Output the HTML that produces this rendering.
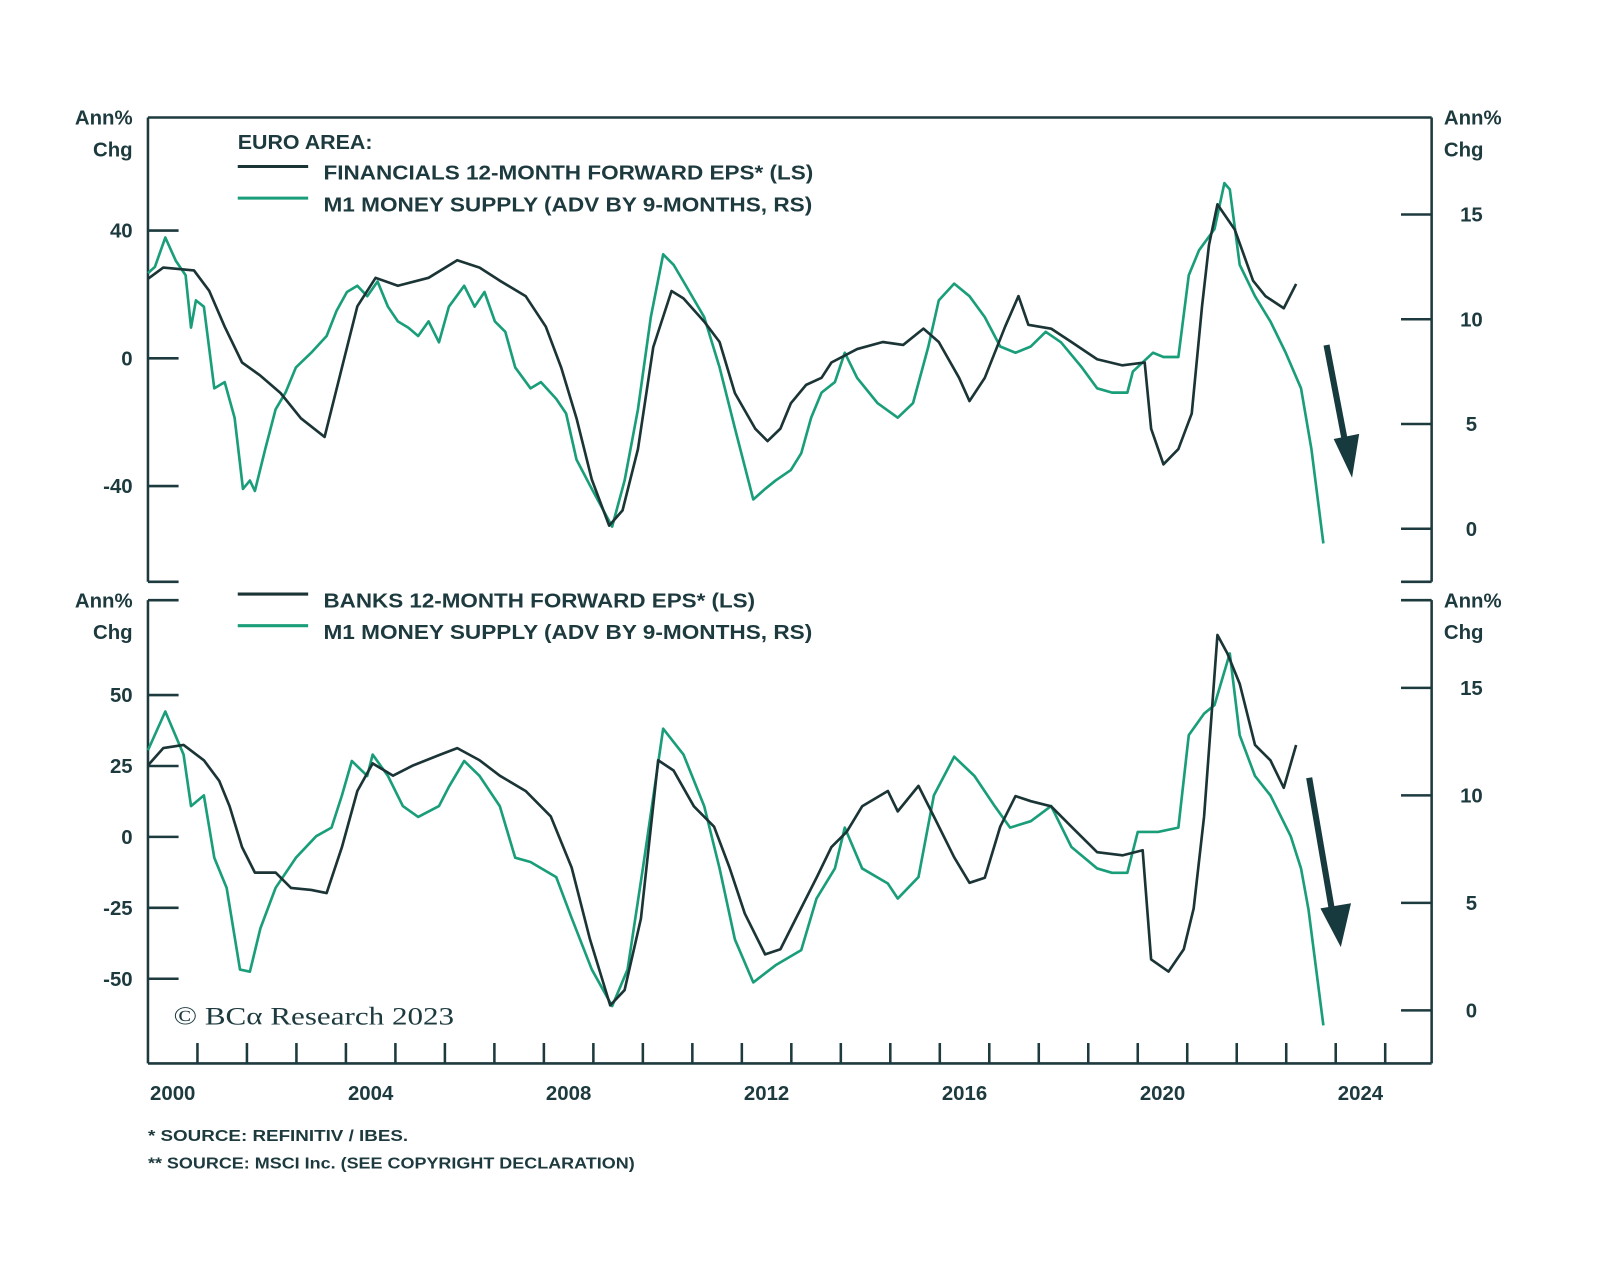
<!DOCTYPE html>
<html><head><meta charset="utf-8"><style>
html,body{margin:0;padding:0;background:#fff;}
svg{display:block;}
text{font-family:"Liberation Sans",sans-serif;fill:#1d3a3e;}
</style></head><body>
<svg id="chart" width="1600" height="1284" viewBox="0 0 1568 1258" xmlns="http://www.w3.org/2000/svg">
<g id="frame"></g>
<g id="series"></g>
<g>
<text x="233" y="146" font-size="20" font-weight="bold" textLength="132" lengthAdjust="spacingAndGlyphs">EURO AREA:</text>
<line x1="233" y1="163" x2="302" y2="163" stroke="#1b3436" stroke-width="3"/>
<text x="317" y="176" font-size="20" font-weight="bold" textLength="480" lengthAdjust="spacingAndGlyphs">FINANCIALS 12-MONTH FORWARD EPS* (LS)</text>
<line x1="233" y1="194" x2="302" y2="194" stroke="#1a9e7a" stroke-width="3"/>
<text x="317" y="207" font-size="20" font-weight="bold" textLength="479" lengthAdjust="spacingAndGlyphs">M1 MONEY SUPPLY (ADV BY 9-MONTHS, RS)</text>
</g>
<g>
<line x1="233" y1="582" x2="302" y2="582" stroke="#1b3436" stroke-width="3"/>
<text x="317" y="595" font-size="20" font-weight="bold" textLength="423" lengthAdjust="spacingAndGlyphs">BANKS 12-MONTH FORWARD EPS* (LS)</text>
<line x1="233" y1="613" x2="302" y2="613" stroke="#1a9e7a" stroke-width="3"/>
<text x="317" y="626" font-size="20" font-weight="bold" textLength="479" lengthAdjust="spacingAndGlyphs">M1 MONEY SUPPLY (ADV BY 9-MONTHS, RS)</text>
</g>
<g font-size="20" font-weight="bold">
<text x="130" y="122" text-anchor="end">Ann%</text>
<text x="130" y="153" text-anchor="end">Chg</text>
<text x="1415" y="122">Ann%</text>
<text x="1415" y="153">Chg</text>
<text x="130" y="595" text-anchor="end">Ann%</text>
<text x="130" y="626" text-anchor="end">Chg</text>
<text x="1415" y="595">Ann%</text>
<text x="1415" y="626">Chg</text>
</g>
<text x="170" y="1004" font-size="25" textLength="275" lengthAdjust="spacingAndGlyphs" style="font-family:'Liberation Serif',serif">© BCα Research 2023</text>
<text x="145" y="1118" font-size="15" font-weight="bold" textLength="255" lengthAdjust="spacingAndGlyphs">*  SOURCE: REFINITIV / IBES.</text>
<text x="145" y="1145" font-size="15" font-weight="bold" textLength="477" lengthAdjust="spacingAndGlyphs">** SOURCE: MSCI Inc. (SEE COPYRIGHT DECLARATION)</text>
<g>
<line x1="1300" y1="338" x2="1318" y2="432" stroke="#173a3e" stroke-width="6"/>
<polygon points="1307,430 1332,425 1325,468" fill="#173a3e"/>
</g>
<g>
<line x1="1283" y1="762" x2="1305" y2="890" stroke="#173a3e" stroke-width="6"/>
<polygon points="1294,890 1324,885 1314,928" fill="#173a3e"/>
</g>
</svg>
<script>
const topEpsData=[[2000.0,24.9],[2000.31,28.4],[2000.93,27.5],[2001.24,21.1],[2001.55,9.9],[2001.9,-1.3],[2002.27,-5.4],[2002.68,-10.9],[2003.09,-18.8],[2003.57,-24.6],[2003.92,-2.9],[2004.23,16.3],[2004.6,25.2],[2005.05,22.7],[2005.67,25.2],[2006.25,30.7],[2006.7,28.4],[2007.11,24.3],[2007.63,19.5],[2008.04,9.9],[2008.35,-2.9],[2008.66,-18.8],[2008.97,-38],[2009.32,-52.4],[2009.59,-47.6],[2009.9,-28.4],[2010.21,3.5],[2010.58,21.1],[2010.82,18.8],[2011.24,11.5],[2011.55,5.1],[2011.86,-10.9],[2012.27,-22],[2012.52,-25.9],[2012.78,-22],[2012.99,-14.1],[2013.3,-8.3],[2013.61,-6.1],[2013.81,-1.3],[2014.33,2.9],[2014.85,5.1],[2015.26,4.2],[2015.67,9.3],[2015.98,5.1],[2016.39,-6.1],[2016.6,-13.4],[2016.91,-6.1],[2017.32,9.9],[2017.59,19.5],[2017.79,10.5],[2018.25,9.3],[2018.66,5.1],[2019.18,-0.3],[2019.69,-2.2],[2020.14,-1.3],[2020.27,-22],[2020.52,-33.2],[2020.82,-28.4],[2021.09,-17.3],[2021.3,16.3],[2021.44,35.5],[2021.61,48.2],[2021.96,40.3],[2022.33,24.3],[2022.58,19.5],[2022.95,15.7],[2023.2,23.3]];
const topM1Data=[[2000.0,12.2],[2000.14,12.5],[2000.35,13.9],[2000.56,12.8],[2000.76,12.1],[2000.87,9.6],[2000.97,10.9],[2001.13,10.6],[2001.34,6.7],[2001.55,7.0],[2001.75,5.3],[2001.92,1.9],[2002.06,2.3],[2002.16,1.8],[2002.37,3.8],[2002.58,5.7],[2002.78,6.5],[2002.99,7.7],[2003.3,8.4],[2003.61,9.2],[2003.81,10.4],[2004.02,11.3],[2004.23,11.6],[2004.43,11.1],[2004.64,11.8],[2004.85,10.6],[2005.05,9.9],[2005.26,9.6],[2005.46,9.2],[2005.67,9.9],[2005.88,8.9],[2006.08,10.6],[2006.39,11.6],[2006.6,10.6],[2006.8,11.3],[2007.01,9.9],[2007.22,9.4],[2007.42,7.7],[2007.73,6.7],[2007.94,7.0],[2008.25,6.2],[2008.45,5.5],[2008.66,3.3],[2008.97,1.9],[2009.38,0.1],[2009.63,2.3],[2009.9,5.7],[2010.16,10.1],[2010.41,13.1],[2010.62,12.6],[2010.82,11.8],[2011.24,10.1],[2011.55,7.7],[2011.86,4.8],[2012.23,1.4],[2012.47,1.9],[2012.68,2.3],[2012.99,2.8],[2013.2,3.6],[2013.4,5.3],[2013.61,6.5],[2013.88,7.0],[2014.08,8.4],[2014.33,7.2],[2014.74,6.0],[2015.15,5.3],[2015.46,6.0],[2015.77,8.7],[2015.98,10.9],[2016.29,11.7],[2016.6,11.1],[2016.91,10.1],[2017.22,8.7],[2017.53,8.4],[2017.84,8.7],[2018.14,9.4],[2018.45,8.9],[2018.87,7.7],[2019.18,6.7],[2019.48,6.5],[2019.79,6.5],[2019.9,7.5],[2020.31,8.4],[2020.52,8.2],[2020.82,8.2],[2021.03,12.1],[2021.24,13.3],[2021.55,14.3],[2021.75,16.5],[2021.86,16.2],[2022.06,12.6],[2022.37,11.1],[2022.68,9.9],[2022.99,8.4],[2023.3,6.7],[2023.51,3.8],[2023.75,-0.7]];
const botEpsData=[[2000.0,25.2],[2000.31,31.3],[2000.72,32.4],[2001.13,27],[2001.44,19.8],[2001.65,10.8],[2001.9,-3.6],[2002.16,-12.6],[2002.58,-12.6],[2002.89,-18],[2003.3,-18.7],[2003.61,-19.8],[2003.92,-3.6],[2004.23,16.2],[2004.54,25.9],[2004.95,21.6],[2005.36,25.2],[2005.88,28.8],[2006.25,31.3],[2006.7,27],[2007.11,21.6],[2007.63,16.2],[2008.14,7.2],[2008.56,-10.8],[2008.93,-36],[2009.34,-59.4],[2009.63,-54],[2009.96,-28.8],[2010.31,27],[2010.62,23.4],[2011.03,10.8],[2011.44,3.6],[2011.75,-10.8],[2012.06,-27],[2012.47,-41.4],[2012.78,-39.6],[2013.09,-28.8],[2013.51,-14.4],[2013.81,-3.6],[2014.12,1.8],[2014.43,10.8],[2014.95,16.2],[2015.15,9],[2015.57,18],[2015.88,7.2],[2016.29,-7.2],[2016.6,-16.2],[2016.91,-14.4],[2017.22,3.6],[2017.53,14.4],[2017.84,12.6],[2018.25,10.8],[2018.66,3.6],[2019.18,-5.4],[2019.69,-6.5],[2020.1,-4.7],[2020.27,-43.2],[2020.62,-47.5],[2020.93,-39.6],[2021.13,-25.2],[2021.34,7.2],[2021.61,71.2],[2021.81,64.7],[2022.06,54],[2022.37,32.4],[2022.68,27],[2022.95,17.3],[2023.2,32.4]];
const botM1Data=[[2000.0,12.1],[2000.35,13.9],[2000.72,11.9],[2000.87,9.5],[2001.13,10],[2001.34,7.1],[2001.59,5.7],[2001.86,1.9],[2002.06,1.8],[2002.27,3.8],[2002.58,5.7],[2002.99,7.1],[2003.4,8.1],[2003.71,8.5],[2003.92,10],[2004.12,11.6],[2004.43,10.9],[2004.54,11.9],[2004.85,10.9],[2005.15,9.5],[2005.46,9],[2005.88,9.5],[2006.08,10.4],[2006.39,11.6],[2006.7,10.9],[2007.11,9.5],[2007.42,7.1],[2007.73,6.9],[2008.25,6.2],[2008.56,4.3],[2008.97,1.9],[2009.38,0.2],[2009.69,1.9],[2010.0,6.6],[2010.41,13.1],[2010.82,11.9],[2011.24,9.5],[2011.55,6.6],[2011.86,3.3],[2012.23,1.3],[2012.68,2.1],[2013.2,2.8],[2013.51,5.2],[2013.88,6.6],[2014.08,8.5],[2014.43,6.6],[2014.95,5.9],[2015.15,5.2],[2015.57,6.2],[2015.88,10],[2016.29,11.8],[2016.7,10.9],[2017.11,9.5],[2017.42,8.5],[2017.84,8.8],[2018.25,9.5],[2018.66,7.6],[2019.18,6.6],[2019.48,6.4],[2019.79,6.4],[2020.0,8.3],[2020.41,8.3],[2020.82,8.5],[2021.03,12.8],[2021.34,13.8],[2021.55,14.2],[2021.86,16.6],[2022.06,12.8],[2022.37,10.9],[2022.68,10],[2023.09,8.1],[2023.3,6.6],[2023.45,4.7],[2023.75,-0.7]];
const topLeftTicks=[40,0,-40];
const topRightTicks=[15,10,5,0];
const botLeftTicks=[50,25,0,-25,-50];
const botRightTicks=[15,10,5,0];
const yearLabels=[2000,2004,2008,2012,2016,2020,2024];

const NS='http://www.w3.org/2000/svg';
const X0=145,X1=1403,PX=48.5;
const x=yr=>X0+(yr-2000)*PX;
const yTopL=v=>351-v*3.13;
const yTopR=v=>518-v*20.53;
const yBotL=v=>820-v*2.78;
const yBotR=v=>990-v*21.07;
const DARK='#1b3436',GREEN='#1a9e7a',AX='#1d3a3e';
const frame=document.getElementById('frame');
const series=document.getElementById('series');
function mk(tag,attrs,parent){const e=document.createElementNS(NS,tag);for(const k in attrs)e.setAttribute(k,attrs[k]);parent.appendChild(e);return e;}
function seg(x1,y1,x2,y2,name){const l=mk('line',{x1,y1,x2,y2,stroke:AX,'stroke-width':2.5},frame);

return l;}
seg(X0,115,X1,115,'top-panel-top-border');
seg(X0,115,X0,570,'top-panel-left-axis');
seg(X1,115,X1,570,'top-panel-right-axis');
seg(X0,570,X0+30,570,'top-panel-left-corner');
seg(X1-30,570,X1,570,'top-panel-right-corner');
seg(X0,588,X0+30,588,'bottom-panel-left-corner');
seg(X1-30,588,X1,588,'bottom-panel-right-corner');
seg(X0,588,X0,1042,'bottom-panel-left-axis');
seg(X1,588,X1,1042,'bottom-panel-right-axis');
seg(X0,1042,X1,1042,'x-axis');
function label(tx,ty,str,anchor,name){const t=mk('text',{x:tx,y:ty,'text-anchor':anchor,'font-size':20,'font-weight':'bold'},frame);t.textContent=str;

}
topLeftTicks.forEach(v=>{seg(X0,yTopL(v),X0+30,yTopL(v),'top-left-tick');label(130,yTopL(v)+7,String(v),'end','top-left-tick-label');});
topRightTicks.forEach(v=>{seg(X1-30,yTopR(v),X1,yTopR(v),'top-right-tick');label(1442,yTopR(v)+7,String(v),'middle','top-right-tick-label');});
botLeftTicks.forEach(v=>{seg(X0,yBotL(v),X0+30,yBotL(v),'bottom-left-tick');label(130,yBotL(v)+7,String(v),'end','bottom-left-tick-label');});
botRightTicks.forEach(v=>{seg(X1-30,yBotR(v),X1,yBotR(v),'bottom-right-tick');label(1442,yBotR(v)+7,String(v),'middle','bottom-right-tick-label');});
for(let yr=2001;yr<=2025;yr++){seg(x(yr),1022,x(yr),1042,'x-tick');}
yearLabels.forEach(yr=>label(x(yr)+PX/2,1078,String(yr),'middle','x-tick-label'));
function line(data,fy,color,name){const d=data.map((p,i)=>(i?'L':'M')+x(p[0]).toFixed(1)+','+fy(p[1]).toFixed(1)).join('');
const pth=mk('path',{d,fill:'none',stroke:color,'stroke-width':2.6,'stroke-linejoin':'round'},series);

}
line(topM1Data,yTopR,GREEN,'top-m1-line');
line(topEpsData,yTopL,DARK,'financials-eps-line');
line(botM1Data,yBotR,GREEN,'bottom-m1-line');
line(botEpsData,yBotL,DARK,'banks-eps-line');
</script>
</body></html>
